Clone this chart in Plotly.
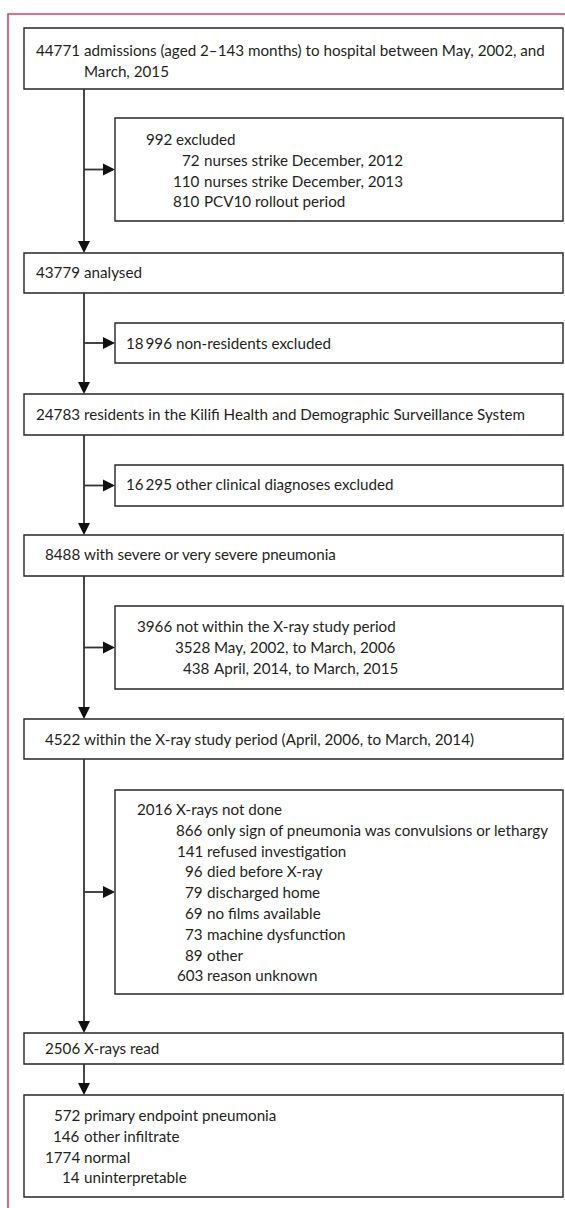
import plotly.graph_objects as go

W, H = 565, 1208

# ---------------- data ----------------
main_counts = ["44771", "43779", "24783", "8488", "4522", "2506"]
main_labels = [
    ["admissions (aged 2–143 months) to hospital between May, 2002, and", "March, 2015"],
    ["analysed"],
    ["residents in the Kilifi Health and Demographic Surveillance System"],
    ["with severe or very severe pneumonia"],
    ["within the X-ray study period (April, 2006, to March, 2014)"],
    ["X-rays read"],
]
excl_counts = ["992", "18\u2009996", "16\u2009295", "3966", "2016"]
excl_labels = ["excluded", "non-residents excluded", "other clinical diagnoses excluded",
               "not within the X-ray study period", "X-rays not done"]
excl_sub_counts = [["72", "110", "810"], [], [], ["3528", "438"],
                   ["866", "141", "96", "79", "69", "73", "89", "603"]]
excl_sub_labels = [
    ["nurses strike December, 2012", "nurses strike December, 2013", "PCV10 rollout period"],
    [], [],
    ["May, 2002, to March, 2006", "April, 2014, to March, 2015"],
    ["only sign of pneumonia was convulsions or lethargy", "refused investigation",
     "died before X-ray", "discharged home", "no films available", "machine dysfunction",
     "other", "reason unknown"],
]
final_counts = ["572", "146", "1774", "14"]
final_labels = ["primary endpoint pneumonia", "other infiltrate", "normal", "uninterpretable"]

# ---------------- layout geometry (pixels) ----------------
main_x0, box_x1, side_x0, stem_x = 24, 563, 115, 84
main_box_y = [(28, 89), (253, 293), (394, 435), (535, 576), (719, 759), (1033, 1064)]
final_box_y = (1095, 1197)
side_box_y = [(118, 221), (323, 363), (465, 506), (606, 689), (790, 994)]
main_first_line = [50, 272, 414, 554, 739, 1048]
final_first_line = 1115
side_first_line = [139, 343, 484, 626, 809]
line_gap = 20.8
main_num_col = 79.5
side_num_col = 171.5
side_sub_col = [200, None, None, 210, 202.5]
text_gap = 4

FONT = dict(family="Lato, 'Open Sans', sans-serif", size=15.2, color="#231f20")
BOX_LINE = dict(color="#262626", width=1.4)
STEM_LINE = dict(color="#333333", width=1.8)
FRAME_COLOR = "#d6405f"
HEAD_L, HEAD_HW = 12, 6

fig = go.Figure()
shapes = []
annotations = []


def add_row(y, num, label, col):
    if num:
        annotations.append(dict(x=col, y=y, text=num, xanchor="right", yanchor="middle",
                                showarrow=False, font=FONT, borderpad=0, borderwidth=0))
    annotations.append(dict(x=col + text_gap, y=y, text=label, xanchor="left", yanchor="middle",
                            showarrow=False, font=FONT, borderpad=0, borderwidth=0))


def rect(x0, y0, x1, y1):
    shapes.append(dict(type="rect", x0=x0, x1=x1, y0=y0, y1=y1, line=BOX_LINE,
                       fillcolor="rgba(0,0,0,0)", layer="above"))


def down_arrow(y_from, y_to):
    shapes.append(dict(type="line", x0=stem_x, x1=stem_x, y0=y_from, y1=y_to - HEAD_L + 1,
                       line=STEM_LINE))
    shapes.append(dict(type="path",
                       path=f"M {stem_x - HEAD_HW} {y_to - HEAD_L} L {stem_x + HEAD_HW} {y_to - HEAD_L} L {stem_x} {y_to} Z",
                       fillcolor="#111111", line=dict(width=0)))


def right_arrow(y):
    shapes.append(dict(type="line", x0=stem_x, x1=side_x0 - HEAD_L + 1, y0=y, y1=y, line=STEM_LINE))
    shapes.append(dict(type="path",
                       path=f"M {side_x0 - HEAD_L} {y - HEAD_HW} L {side_x0 - HEAD_L} {y + HEAD_HW} L {side_x0} {y} Z",
                       fillcolor="#111111", line=dict(width=0)))


# red frame
shapes.append(dict(type="path", path=f"M 8 {H + 5} L 8 14 L {W + 5} 14",
                   line=dict(color=FRAME_COLOR, width=1.6)))

# main boxes
for i, (y0, y1) in enumerate(main_box_y):
    rect(main_x0, y0, box_x1, y1)
    for j, lab in enumerate(main_labels[i]):
        add_row(main_first_line[i] + j * line_gap, main_counts[i] if j == 0 else "", lab, main_num_col)

# final box
rect(main_x0, final_box_y[0], box_x1, final_box_y[1])
for j, (c, lab) in enumerate(zip(final_counts, final_labels)):
    add_row(final_first_line + j * line_gap, c, lab, main_num_col)

# side boxes
for i, (y0, y1) in enumerate(side_box_y):
    rect(side_x0, y0, box_x1, y1)
    add_row(side_first_line[i], excl_counts[i], excl_labels[i], side_num_col)
    for j, (c, lab) in enumerate(zip(excl_sub_counts[i], excl_sub_labels[i])):
        add_row(side_first_line[i] + (j + 1) * line_gap, c, lab, side_sub_col[i])
    right_arrow((y0 + y1) / 2)

# connectors between main boxes
tops = [b[0] for b in main_box_y[1:]] + [final_box_y[0]]
for (y0, y1), nxt in zip(main_box_y, tops):
    down_arrow(y1, nxt)

fig.update_layout(
    width=W, height=H,
    margin=dict(l=0, r=0, t=0, b=0),
    paper_bgcolor="white", plot_bgcolor="white",
    xaxis=dict(range=[0, W], visible=False, fixedrange=True),
    yaxis=dict(range=[H, 0], visible=False, fixedrange=True),
    shapes=shapes, annotations=annotations,
    showlegend=False,
)

fig.write_html("out.html", config={"displayModeBar": False},
               post_script="document.body.style.margin='0';document.body.style.overflow='hidden';")
